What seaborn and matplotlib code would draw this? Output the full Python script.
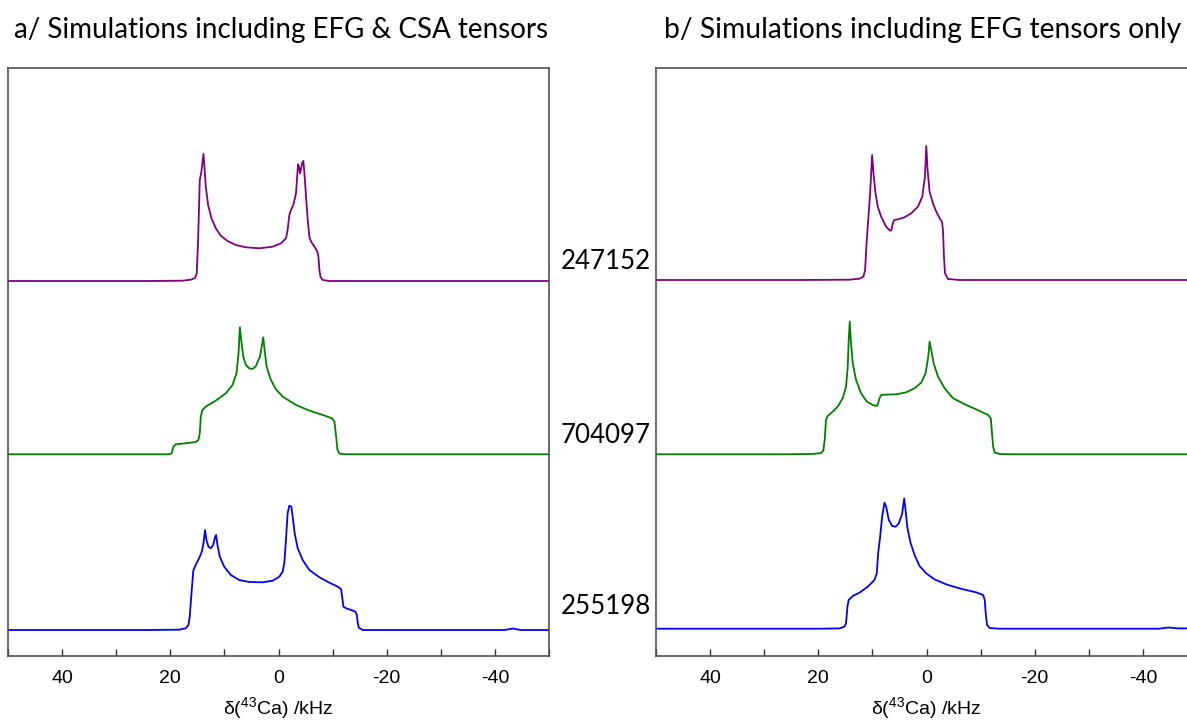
import numpy as np
import pandas as pd
import matplotlib
matplotlib.use("Agg")
import matplotlib.pyplot as plt
from matplotlib.ticker import MultipleLocator, FixedLocator
import seaborn as sns

# ---------------- data (x in kHz, intensity in arbitrary units) ----------------
samples = ["247152", "704097", "255198"]
colors = ["#800080", "#008000", "#0000FF"]

# panel a: EFG & CSA
a_247152_khz = [50, 23.94, 17.77, 16.22, 15.42, 15.11, 14.86, 14.55, 14.25, 13.87, 13.69, 13.44, 13.01, 12.39,
                11.59, 10.66, 9.43, 7.88, 6.03, 3.56, 1.09, -0.46, -1.38, -1.69, -2.00, -2.31, -2.74, -3.24,
                -3.61, -3.79, -3.98, -4.16, -4.35, -4.60, -4.84, -5.09, -5.40, -5.71, -6.02, -6.45, -6.94,
                -7.19, -7.38, -7.56, -7.75, -8.18, -9.41, -50]
a_247152_int = [0, 0, 0.3, 1.3, 3.0, 7.7, 41.0, 101.0, 109.3, 127.0, 114.3, 94.3, 76.0, 62.7,
                52.7, 45.3, 40.0, 36.0, 33.7, 32.7, 34.3, 37.7, 42.7, 51.0, 66.0, 71.0, 76.0, 87.7,
                116.7, 114.3, 107.7, 111.7, 117.7, 120.0, 104.3, 84.3, 61.0, 44.3, 39.3, 36.0, 31.7,
                29.3, 24.3, 11.0, 4.3, 1.0, 0, 0]

a_704097_khz = [50, 27.65, 20.24, 19.74, 19.43, 19.00, 17.15, 15.30, 14.80, 14.55, 14.37, 14.06, 13.44, 11.59,
                9.74, 8.50, 7.76, 7.39, 7.14, 6.89, 6.52, 6.03, 5.41, 4.79, 4.18, 3.43, 3.06, 2.82, 2.57,
                2.20, 1.40, 0.47, -0.77, -3.24, -5.71, -8.18, -9.91, -10.34, -10.65, -10.90, -11.27,
                -12.50, -50]
a_704097_int = [0, 0, 0, 1.0, 7.7, 10.0, 11.0, 12.3, 14.3, 21.0, 37.7, 44.3, 47.7, 53.7,
                61.0, 69.3, 81.0, 101.0, 127.0, 114.3, 97.7, 89.3, 86.0, 85.3, 88.3, 97.7, 109.3, 117.0,
                104.3, 87.7, 74.3, 65.0, 57.7, 49.3, 43.7, 39.3, 36.0, 32.7, 17.7, 4.3, 0.7, 0, 0]

a_255198_khz = [50, 23.94, 18.38, 17.15, 16.65, 16.41, 16.04, 15.73, 15.30, 14.68, 14.18, 13.87, 13.57, 13.32,
                12.95, 12.52, 12.08, 11.71, 11.53, 11.28, 10.85, 10.04, 8.81, 7.26, 5.41, 2.94, 1.09, -0.15,
                -0.77, -1.07, -1.38, -1.69, -2.00, -2.37, -2.62, -2.99, -3.55, -4.47, -5.71, -7.56, -9.41,
                -10.96, -11.58, -11.76, -12.01, -12.50, -13.43, -14.23, -14.48, -14.66, -14.85, -15.59,
                -41.8, -43.3, -44.8, -50]
a_255198_int = [0, 0, 0.3, 1.7, 5.0, 13.3, 40.0, 60.0, 65.0, 71.7, 78.3, 86.7, 100.0, 90.0,
                83.3, 81.7, 85.0, 93.3, 95.0, 85.0, 73.3, 63.3, 55.0, 50.0, 48.0, 47.7, 49.3, 53.3,
                58.3, 66.7, 90.0, 116.7, 124.3, 123.3, 113.3, 96.7, 81.7, 70.0, 60.0, 52.7, 47.3,
                43.3, 40.7, 33.3, 23.3, 21.7, 20.0, 18.3, 15.0, 6.7, 2.3, 0,
                0, 1.5, 0, 0]

# panel b: EFG only
b_247152_khz = [50, 23.52, 14.25, 12.40, 11.66, 11.35, 11.04, 10.73, 10.42, 10.05, 9.80, 9.43, 9.00, 8.38,
                7.46, 6.71, 6.47, 6.22, 5.97, 5.29, 4.06, 2.82, 1.59, 0.78, 0.29, 0.04, -0.20, -0.57,
                -1.19, -1.81, -2.43, -2.86, -3.05, -3.23, -3.42, -3.97, -6.13, -50]
b_247152_int = [0, 0, 0.3, 1.3, 3.3, 10.0, 40.0, 63.3, 86.7, 125.0, 106.7, 86.7, 73.3, 63.3,
                53.3, 49.3, 50.0, 56.7, 60.0, 60.7, 62.7, 66.7, 73.3, 83.3, 103.3, 134.0, 110.0, 88.3,
                76.7, 68.3, 61.7, 58.3, 50.0, 23.3, 6.7, 1.0, 0, 0]

b_704097_khz = [50, 27.22, 21.05, 19.50, 19.07, 18.82, 18.58, 18.27, 17.34, 16.41, 15.49, 14.87, 14.56, 14.38,
                14.19, 14.00, 13.63, 13.02, 12.09, 11.04, 9.93, 9.19, 8.94, 8.69, 8.38, 7.46, 5.60, 3.75,
                2.21, 0.97, 0.17, -0.33, -0.57, -0.88, -1.32, -2.12, -3.35, -4.90, -7.37, -9.84, -11.38,
                -11.88, -12.06, -12.31, -12.62, -13.55, -16.02, -50]
b_704097_int = [0, 0, 0.3, 1.3, 3.7, 14.3, 34.3, 38.3, 42.7, 47.7, 56.0, 67.7, 87.7, 114.3,
                132.7, 114.3, 91.0, 74.3, 61.0, 52.7, 49.3, 48.3, 51.0, 56.0, 59.3, 59.7, 60.0, 62.0,
                66.0, 71.7, 81.0, 97.7, 112.7, 104.3, 91.0, 77.7, 66.0, 56.0, 49.3, 43.3, 39.3,
                36.0, 24.3, 7.7, 1.7, 0.3, 0, 0]

b_255198_khz = [50, 19.81, 16.10, 15.18, 14.87, 14.62, 14.38, 13.63, 12.40, 10.85, 9.62, 9.19, 8.94, 8.57,
                8.20, 7.77, 7.46, 6.96, 6.34, 5.73, 5.11, 4.49, 4.12, 3.87, 3.56, 3.01, 2.21, 1.28, 0.04,
                -1.50, -3.66, -6.13, -9.22, -10.46, -10.77, -10.95, -11.20, -11.69, -13.55,
                -43.0, -44.7, -46.5, -50]
b_255198_int = [0, 0, 0.3, 2.0, 5.3, 22.0, 28.7, 32.7, 36.0, 42.0, 48.7, 55.3, 75.3, 92.0,
                112.0, 126.0, 122.0, 108.7, 102.7, 102.0, 105.3, 115.3, 130.3, 118.7, 102.0, 87.0, 73.7, 62.7, 55.3,
                49.3, 44.3, 40.3, 36.3, 33.7, 28.7, 15.3, 3.7, 0.7, 0,
                0, 1.2, 0.3, 0.3]

# vertical stacking offsets of each trace
a_offsets = [375, 201.7, 26]
b_offsets = [376, 201.7, 27.3]

titles = ["a/ Simulations including EFG & CSA tensors", "b/ Simulations including EFG tensors only"]
xticks_major = [40, 20, 0, -20, -40]
xlabel = r"δ($\mathregular{^{43}}$Ca) /kHz"


def build(khz_list, int_list, offsets):
    frames = []
    for name, xs, ys, off in zip(samples, khz_list, int_list, offsets):
        frames.append(pd.DataFrame({"kHz": xs, "y": np.asarray(ys) + off, "sample": name}))
    return pd.concat(frames, ignore_index=True)


df_a = build([a_247152_khz, a_704097_khz, a_255198_khz], [a_247152_int, a_704097_int, a_255198_int], a_offsets)
df_b = build([b_247152_khz, b_704097_khz, b_255198_khz], [b_247152_int, b_704097_int, b_255198_int], b_offsets)

# ---------------- style ----------------
sns.set_style("white")
plt.rcParams["font.family"] = ["Liberation Sans", "DejaVu Sans"]
plt.rcParams["mathtext.fontset"] = "custom"
plt.rcParams["mathtext.rm"] = "Liberation Sans"
plt.rcParams["mathtext.it"] = "Liberation Sans:italic"
plt.rcParams["axes.unicode_minus"] = False
plt.rcParams["text.color"] = "black"
plt.rcParams["axes.labelcolor"] = "black"

W, H = 1187, 722
fig = plt.figure(figsize=(W / 100, H / 100), dpi=100)
fig.patch.set_facecolor("white")

ax_w, ax_h = 541 / W, 588 / H
ax_b = (H - 656) / H
ax_a = fig.add_axes([8 / W, ax_b, ax_w, ax_h])
ax_bb = fig.add_axes([656 / W, ax_b, ax_w, ax_h])

palette = dict(zip(samples, colors))
for ax, df in [(ax_a, df_a), (ax_bb, df_b)]:
    sns.lineplot(data=df, x="kHz", y="y", hue="sample", palette=palette, sort=False,
                 estimator=None, legend=False, linewidth=1.3, ax=ax)
    ax.set_xlim(50, -50)
    ax.set_ylim(0, 588)
    ax.set_yticks([])
    ax.set_ylabel("")
    ax.xaxis.set_major_locator(FixedLocator(xticks_major))
    ax.xaxis.set_minor_locator(MultipleLocator(10))
    ax.tick_params(axis="x", which="both", direction="in", length=5, width=1.0,
                   color="#303030", bottom=True, top=False)
    ax.tick_params(axis="x", which="major", labelsize=14, pad=10, labelcolor="black")
    ax.set_xlabel(xlabel, fontsize=14, labelpad=6, color="black")
    for sp in ax.spines.values():
        sp.set_color("#505050")
        sp.set_linewidth(1.2)


def fit_text(x_px, y_px, s, target_w, base=20, **kw):
    t = fig.text(x_px / W, 1 - y_px / H, s, fontsize=base, color="black", **kw)
    r = fig.canvas.get_renderer()
    w = t.get_window_extent(r).width
    t.set_fontsize(base * target_w / w)
    return t


fit_text(14, 38, titles[0], 534, family=["Lato", "DejaVu Sans"], va="baseline", ha="left")
fit_text(664, 38, titles[1], 517, family=["Lato", "DejaVu Sans"], va="baseline", ha="left")
for name, yb in zip(samples, [269, 443, 614]):
    fit_text(561, yb, name, 90, family=["Lato", "DejaVu Sans"], va="baseline", ha="left")

fig.savefig("out.png", dpi=100, facecolor="white")
